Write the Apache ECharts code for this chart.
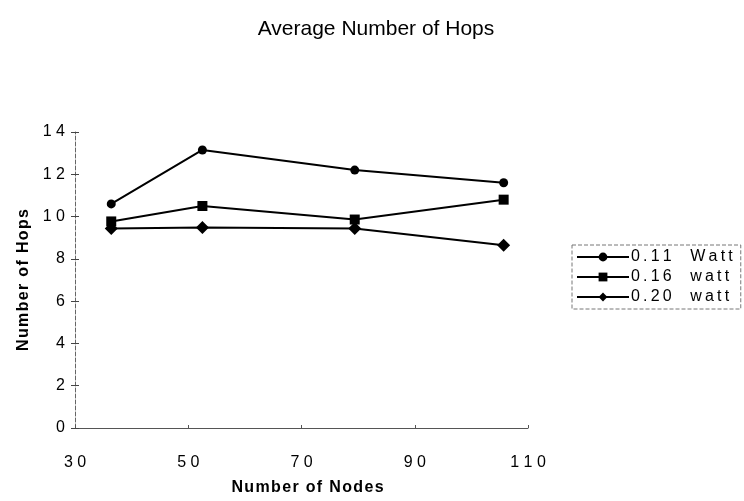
<!DOCTYPE html>
<html>
<head>
<meta charset="utf-8">
<script src="https://cdn.jsdelivr.net/npm/echarts@6/dist/echarts.min.js"></script>
<style>html,body{margin:0;padding:0;background:#fff}#c{width:744px;height:501px}</style>
</head>
<body>
<div id="c"></div>
<script>
const seriesNames = ['0.11  Watt', '0.16  watt', '0.20  watt'];
const nodes = [36.4, 52.5, 79.4, 105.7];
const hops011 = [10.6, 13.15, 12.2, 11.6];
const hops016 = [9.77, 10.5, 9.86, 10.8];
const hops020 = [9.44, 9.48, 9.44, 8.64];
const xTicks = [30, 50, 70, 90, 110];
const yTicks = [0, 2, 4, 6, 8, 10, 12, 14];

const font = '"Liberation Sans", Arial, sans-serif';
function spaced(v){ return String(v).split('').join(' '); }
function track(s, sp){ return String(s).split('').join(sp); }
function pairs(ys){ return nodes.map((x,i)=>[x, ys[i]]); }

const chart = echarts.init(document.getElementById('c'));
const lineStyle = {color:'#000', width:2};
const mk = (name, ys, symbol, size) => ({
  name, type:'line', data:pairs(ys), symbol, symbolSize:size,
  lineStyle, itemStyle:{color:'#000'}, z:3
});
chart.setOption({
  animation:false,
  backgroundColor:'#fff',
  title:{text:'Average Number of Hops', left:371, textAlign:'center', top:14,
    textStyle:{fontFamily:'"Liberation Sans Narrow", "Liberation Sans", Arial', fontSize:21, fontWeight:'normal', color:'#000'}},
  grid:{left:75, right:216, top:132, bottom:71},
  legend:{
    orient:'vertical', left:572, top:245, width:172,
    itemWidth:52, itemHeight:11, itemGap:4,
    padding:[4,8,4,4],
    borderColor:'#777', borderWidth:1, borderType:'dashed',
    formatter:n=>track(n, '\u2009'),
    textStyle:{fontFamily:font, fontSize:16, color:'#000', padding:[0,0,0,-3]},
    data:seriesNames
  },
  xAxis:{
    type:'value', min:xTicks[0], max:xTicks[xTicks.length-1], interval:20,
    name:track('Number of Nodes', '\u200A'), nameLocation:'middle', nameGap:52,
    nameTextStyle:{fontFamily:font, fontSize:16, fontWeight:'bold', color:'#000', padding:[0,0,0,12]},
    axisLine:{show:true, onZero:false, lineStyle:{color:'#555', width:1}},
    axisTick:{show:true, inside:true, length:3, lineStyle:{color:'#555'}},
    axisLabel:{fontFamily:font, fontSize:16, color:'#000', margin:27, formatter:v=>spaced(v)},
    splitLine:{show:false}
  },
  yAxis:[{
    type:'value', min:yTicks[0], max:yTicks[yTicks.length-1], interval:2,
    name:track('Number of Hops', '\u200A'), nameLocation:'middle', nameGap:38, nameRotate:90,
    nameTextStyle:{fontFamily:font, fontSize:16, fontWeight:'bold', color:'#000'},
    axisLine:{show:true, lineStyle:{color:'#666', width:1, type:'dashed'}},
    axisTick:{show:true, length:4, lineStyle:{color:'#444'}},
    axisLabel:{fontFamily:font, fontSize:16, color:'#000', margin:10, formatter:v=>spaced(v)},
    splitLine:{show:false}
  },{
    type:'value', min:yTicks[0], max:yTicks[yTicks.length-1], interval:2, position:'left',
    axisLine:{show:false},
    axisTick:{show:true, inside:true, length:4, lineStyle:{color:'#444'}},
    axisLabel:{show:false}, splitLine:{show:false}
  }],
  series:[
    mk(seriesNames[0], hops011, 'circle', 9),
    mk(seriesNames[1], hops016, 'rect', 10),
    mk(seriesNames[2], hops020, 'diamond', 13)
  ]
});
</script>
</body>
</html>
